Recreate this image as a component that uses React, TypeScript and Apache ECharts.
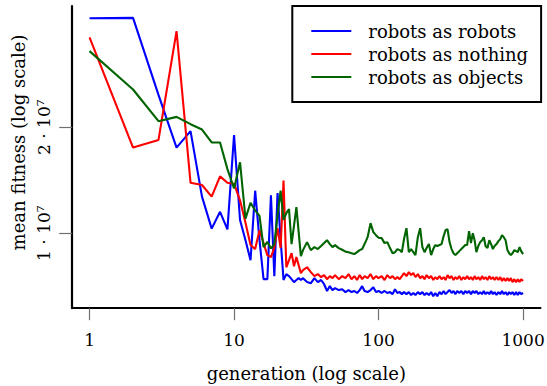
import React, { useEffect, useRef } from "react";
import * as echarts from "echarts";

// generation numbers (x, log scale)
const generations = [
  1, 2, 3, 4, 5, 6, 7, 8, 9, 10, 11, 12, 13, 14, 15, 16, 17, 18, 19, 20, 21, 22,
  23, 24, 25, 26, 27, 28, 29, 30,
  32, 34, 36, 38, 40, 42, 44, 46, 48, 50,
  53, 56, 59, 62, 65, 68, 71, 74, 77, 80,
  84, 88, 92, 96, 100,
  105, 110, 115, 120, 125, 130, 135, 140, 145, 150,
  156, 162, 168, 174, 180,
  187, 194, 201, 208, 215,
  223, 231, 239, 247, 255,
  264, 273, 282, 291, 300,
  310, 320, 330, 340, 350,
  362, 374, 386, 398, 410,
  423, 436, 449, 462, 475,
  490, 505, 520, 535, 550,
  567, 584, 601, 618, 635,
  655, 675, 695, 715, 735,
  757, 779, 801, 823, 845,
  870, 895, 920, 945, 970,
  1000,
];

// mean fitness, in millions
const robotsAsRobots = [
  40.8, 40.9, 24.7, 17.5, 19.5, 12.7, 10.3, 11.5, 10.25, 19.0, 10.9, 9.55, 8.38, 13.2, 9.55, 7.4, 7.4, 12.8, 7.55, 13.0, 9.6, 7.36,
  7.65, 7.55, 7.4, 7.26, 7.36, 7.45, 7.36, 7.45,
  7.26, 7.21, 7.45, 7.26, 7.36, 7.16, 6.85, 7.07, 6.89, 6.98,
  6.89, 6.93, 6.8, 6.89, 6.8, 6.85, 6.76, 6.89, 7.07, 6.85,
  6.8, 6.89, 7.02, 6.8, 6.85,
  6.76, 6.85, 6.76, 6.8, 6.71, 6.93, 6.76, 6.8, 6.71, 6.8,
  6.71, 6.8, 6.67, 6.76, 6.67,
  6.8, 6.71, 6.8, 6.67, 6.76,
  6.67, 6.8, 6.62, 6.76, 6.62,
  6.8, 6.71, 6.85, 6.71, 6.8,
  6.89, 6.76, 6.85, 6.71, 6.85,
  6.76, 6.85, 6.71, 6.85, 6.76,
  6.85, 6.71, 6.85, 6.76, 6.85,
  6.71, 6.8, 6.71, 6.85, 6.71,
  6.8, 6.71, 6.85, 6.71, 6.8,
  6.67, 6.8, 6.71, 6.85, 6.71,
  6.8, 6.67, 6.8, 6.71, 6.8,
  6.67, 6.8, 6.67, 6.8, 6.71,
  6.76,
];

const robotsAsNothing = [
  36.0, 17.5, 18.4, 37.5, 13.9, 13.7, 12.7, 14.5, 13.9, 13.8, 12.4, 10.7, 9.25, 9.01, 10.2, 9.37, 8.66, 8.55, 9.1, 10.33, 9.07, 14.1,
  8.0, 8.38, 8.77, 8.05, 8.55, 8.11, 7.7, 7.85,
  8.0, 7.75, 7.55, 7.65, 7.5, 7.6, 7.4, 7.55, 7.45, 7.6,
  7.4, 7.55, 7.45, 7.65, 7.4, 7.55, 7.36, 7.6, 7.4, 7.55,
  7.45, 7.65, 7.4, 7.55, 7.45,
  7.55, 7.36, 7.6, 7.45, 7.55, 7.4, 7.5, 7.4, 7.55, 7.7,
  7.55, 7.75, 7.6, 7.7, 7.5,
  7.65, 7.45, 7.55, 7.4, 7.6,
  7.45, 7.55, 7.36, 7.5, 7.4,
  7.55, 7.4, 7.5, 7.36, 7.6,
  7.45, 7.55, 7.36, 7.5, 7.4,
  7.55, 7.36, 7.5, 7.4, 7.55,
  7.4, 7.5, 7.36, 7.55, 7.4,
  7.5, 7.36, 7.55, 7.4, 7.5,
  7.36, 7.55, 7.4, 7.5, 7.36,
  7.5, 7.36, 7.5, 7.31, 7.45,
  7.31, 7.45, 7.31, 7.45, 7.26,
  7.4, 7.26, 7.4, 7.26, 7.4,
  7.31,
];

const robotsAsObjects = [
  32.9, 25.6, 20.8, 21.4, 20.4, 19.7, 18.1, 18.1, 15.2, 13.4, 15.9, 11.0, 12.2, 11.6, 11.2, 9.13, 9.45, 9.05, 9.31, 11.25, 13.2, 10.9,
  11.4, 11.7, 9.31, 10.5, 11.85, 10.07, 8.6, 8.95,
  9.43, 8.95, 9.13, 9.01, 9.19, 9.37, 9.55, 9.31, 9.13, 9.25,
  9.07, 8.97, 8.86, 8.83, 8.77, 8.72, 8.83, 8.95, 9.01, 9.31,
  9.74, 10.68, 10.07, 9.87, 9.7,
  9.68, 9.37, 9.43, 9.07, 8.77, 8.83, 9.01, 8.95, 8.83, 9.62,
  10.33, 8.83, 9.01, 8.83, 8.66,
  9.74, 10.33, 9.13, 8.83, 9.07,
  9.31, 8.66, 9.01, 9.25, 9.19,
  9.25, 9.31, 9.81, 10.2, 10.27,
  9.43, 9.01, 8.77, 8.66, 8.77,
  8.89, 9.01, 9.13, 9.25, 9.25,
  10.13, 9.37, 10.0, 9.55, 8.83,
  9.19, 9.43, 9.55, 9.74, 9.19,
  9.07, 9.55, 9.31, 9.01, 9.19,
  9.31, 9.49, 9.62, 9.87, 9.74,
  9.55, 8.95, 8.77, 8.66, 8.77,
  8.95, 8.89, 8.83, 9.13, 8.89,
  8.72,
];

const seriesNames = ["robots as robots", "robots as nothing", "robots as objects"];
const seriesColors = ["#0000ff", "#ff0000", "#006400"];
const xTicks = [1, 10, 100, 1000];
const yTicks = [10, 20];

const FONT = "DejaVu Serif";

export default function App() {
  const ref = useRef<HTMLDivElement>(null);
  useEffect(() => {
    if (!ref.current) return;
    const chart = echarts.init(ref.current, null, { renderer: "svg" });
    const values = [robotsAsRobots, robotsAsNothing, robotsAsObjects];
    chart.setOption({
      animation: false,
      backgroundColor: "#ffffff",
      grid: { left: 72.2, right: 6.6, top: 6, bottom: 77.8, containLabel: false, outerBoundsMode: "none" },
      xAxis: {
        type: "log",
        logBase: 10,
        min: 0.7586,
        max: 1318,
        splitLine: { show: false },
        axisLine: { show: true, onZero: false, lineStyle: { color: "#000", width: 2.2 } },
        axisTick: { show: true, customValues: xTicks, length: 12, lineStyle: { color: "#707070", width: 1.2 } },
        axisLabel: {
          customValues: xTicks,
          margin: 23,
          fontFamily: FONT,
          fontSize: 17,
          color: "#000",
          formatter: (v: number) => String(Math.round(v)),
        },
      },
      yAxis: {
        type: "log",
        logBase: 10,
        min: 6.12,
        max: 44.2,
        splitLine: { show: false },
        axisLine: { show: true, lineStyle: { color: "#000", width: 2.2 } },
        axisTick: { show: true, customValues: yTicks, length: 13, lineStyle: { color: "#707070", width: 1.2 } },
        axisLabel: {
          customValues: yTicks,
          rotate: 90,
          margin: 20,
          fontFamily: FONT,
          fontSize: 17,
          color: "#000",
          formatter: (v: number) => `${Math.round(v / 10)} · 10⁷`,
        },
      },
      legend: {
        data: seriesNames.map((name) => ({ name, icon: "path://M0,0 L40,0 L40,2 L0,2 Z" })),
        orient: "vertical",
        left: 292.3,
        top: 6,
        padding: [16, 13, 16, 19],
        itemGap: 5,
        itemWidth: 40,
        itemHeight: 20,
        symbolKeepAspect: true,
        borderColor: "#000",
        borderWidth: 2,
        backgroundColor: "#fff",
        formatter: (name: string) => `{s|}{n|${name}}`,
        textStyle: {
          fontFamily: FONT,
          fontSize: 18,
          color: "#000",
          rich: {
            s: { width: 12 },
            n: { fontFamily: FONT, fontSize: 18, color: "#000" },
          },
        },
      },
      graphic: [
        {
          type: "text",
          x: 306.3,
          y: 373,
          style: {
            text: "generation (log scale)",
            fontFamily: FONT,
            fontSize: 18,
            fill: "#000",
            align: "center",
            verticalAlign: "middle",
          },
        },
        {
          type: "text",
          x: 18,
          y: 142.5,
          rotation: Math.PI / 2,
          style: {
            text: "mean fitness (log scale)",
            fontFamily: FONT,
            fontSize: 18,
            fill: "#000",
            align: "center",
            verticalAlign: "middle",
          },
        },
      ],
      series: seriesNames.map((name, k) => ({
        name,
        type: "line",
        symbol: "none",
        showSymbol: false,
        color: seriesColors[k],
        lineStyle: { color: seriesColors[k], width: 2.1 },
        data: generations.map((g, i) => [g, values[k][i]]),
      })),
    });
    return () => chart.dispose();
  }, []);
  return (
    <div
      ref={ref}
      style={{ position: "absolute", left: 0, top: 0, width: 547, height: 386, background: "#fff" }}
    />
  );
}
